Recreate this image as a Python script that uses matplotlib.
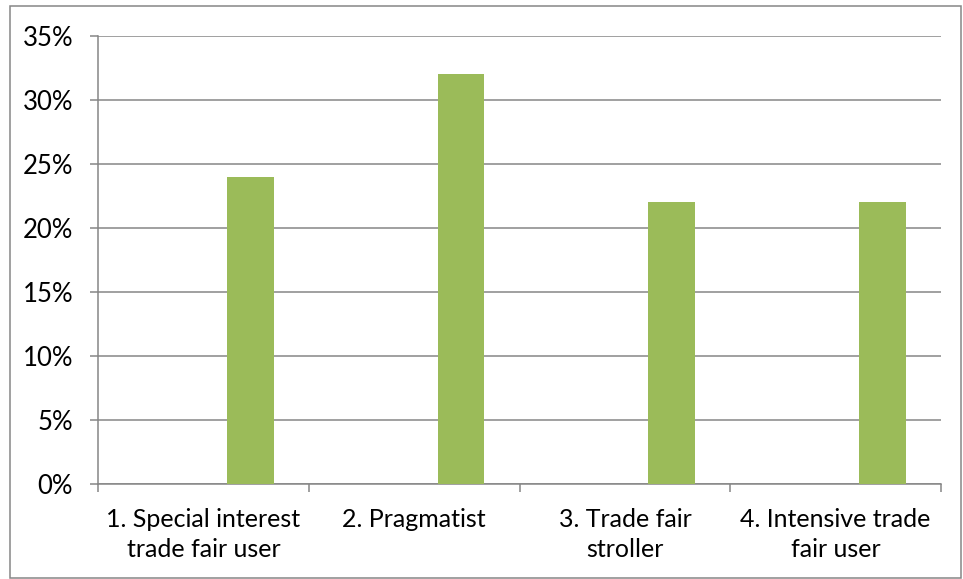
import numpy as np
import matplotlib.pyplot as plt
from matplotlib.patches import Rectangle

plt.rcParams['font.family'] = ['Lato', 'DejaVu Sans']

# Data
categories = ["1. Special interest\ntrade fair user", "2. Pragmatist",
              "3. Trade fair\nstroller", "4. Intensive trade\nfair user"]
shares = [24, 32, 22, 22]

grey = "#868686"
green = "#9BBB59"

fig = plt.figure(figsize=(9.63, 5.79), dpi=100)
ax = fig.add_axes([98/963, 1 - 484/579, (941 - 98)/963, (484 - 36)/579])

# Excel-style clustered layout: 3 slots per category, gap 150%, green is the 3rd
x = np.arange(len(categories))
w = 1 / 4.5
ax.bar(x + w, shares, width=w, color=green, zorder=3)

ax.set_xlim(-0.5, len(categories) - 0.5)
ax.set_ylim(0, 35)
ax.set_yticks(np.arange(0, 36, 5))
ax.set_yticklabels([f"{v}%" for v in range(0, 36, 5)])
ax.yaxis.grid(True, color=grey, lw=1.1, zorder=0)

ax.set_xticks(x)
ax.set_xticklabels(categories, linespacing=1.4)
ax.set_xticks(np.arange(-0.5, len(categories)), minor=True)
ax.tick_params(axis='x', which='major', length=0, pad=17, labelsize=18)
ax.tick_params(axis='x', which='minor', length=6, color=grey, width=1.1)
ax.tick_params(axis='y', length=6, color=grey, width=1.1, pad=12, labelsize=18.5)

for s in ['top', 'right']:
    ax.spines[s].set_visible(False)
for s in ['left', 'bottom']:
    ax.spines[s].set_color(grey)
    ax.spines[s].set_linewidth(1.1)

# Chart frame
fig.patches.append(Rectangle((10/963, 1/579), 951/963, 572/579, transform=fig.transFigure,
                             fill=False, edgecolor=grey, lw=1.1))

fig.savefig("out.png", dpi=100)
